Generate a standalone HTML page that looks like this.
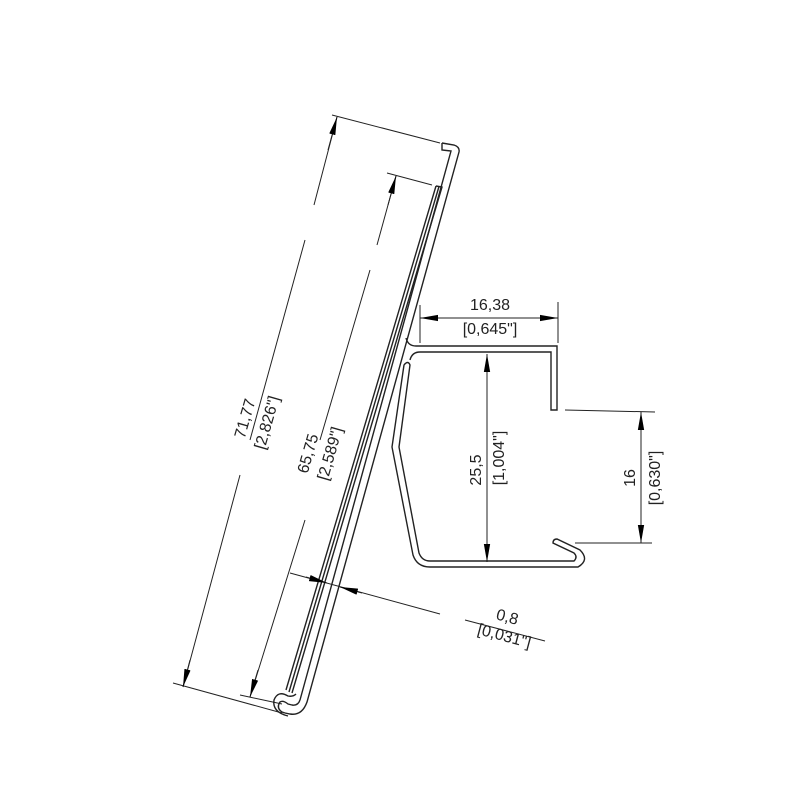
<!DOCTYPE html>
<html><head><style>body{margin:0;background:#fff}svg{display:block}</style></head>
<body>
<svg width="800" height="800" viewBox="0 0 800 800" xmlns="http://www.w3.org/2000/svg" font-family="Liberation Sans, sans-serif">
<defs>
<marker id="ar" viewBox="0 0 10 10" preserveAspectRatio="none" refX="10" refY="5" markerWidth="18" markerHeight="7" markerUnits="userSpaceOnUse" orient="auto-start-reverse"><path d="M0,0.5 L10,5 L0,9.5 z" fill="#000"/></marker>
</defs>
<g fill="none" stroke="#222" stroke-width="1.4">
<path d="M442,143 L442,150 L451,151 L300,700"/>
<path d="M442,143 L454,145 Q460,147 459,152 L307,702 Q302,716 290,714 L285,713"/>
<path d="M300,700 Q298,706 292,705 L288,704 Q283,700 280,702 Q276,708 282,712 L285,713"/>
<path d="M296,694 Q293,697 288,696 Q278,690 274,700 Q272,712 288,716"/>
<path d="M436,186 L442,187 L292,693"/>
<path d="M436,186 L286,690"/>
<path d="M439,186.5 L289,692"/>
<path d="M406,338 Q408,346 416,346 L557,346 L557,410 L551,410 L551,352 L420,352 Q412,352 410,360"/>
<path d="M404,365 L392,447 L413,555 Q417,567 430,567 L578,567 Q590,560 580,550 L557,539 Q553,539 553,543 L574,553 Q578,557 574,561 L430,561 Q422,561 419,553 L399,447 L410,365 Q408,360 404,365 Z"/>
</g>
<g fill="none" stroke="#222" stroke-width="1">
<line x1="332" y1="115" x2="440" y2="143"/>
<line x1="173" y1="683" x2="282" y2="713"/>
<path d="M337,117 L314,205 M305,240 L250,440 M240,475 L183,687" />
<line x1="337" y1="117" x2="328" y2="150" marker-start="url(#ar)"/>
<line x1="190" y1="660" x2="183" y2="687" marker-end="url(#ar)"/>
<line x1="387" y1="173" x2="432" y2="185"/>
<line x1="240" y1="695" x2="282" y2="704"/>
<path d="M396,176 L377,245 M370,270 L320,440 M305,520 L250,697"/>
<line x1="396" y1="176" x2="388" y2="205" marker-start="url(#ar)"/>
<line x1="258" y1="670" x2="250" y2="697" marker-end="url(#ar)"/>
<line x1="420" y1="305" x2="420" y2="343"/>
<line x1="558" y1="302" x2="558" y2="343"/>
<line x1="420" y1="318" x2="558" y2="318" marker-start="url(#ar)" marker-end="url(#ar)"/>
<line x1="487" y1="354" x2="487" y2="562" marker-start="url(#ar)" marker-end="url(#ar)"/>
<line x1="565" y1="410" x2="655" y2="412"/>
<line x1="575" y1="543" x2="652" y2="543"/>
<line x1="641" y1="412" x2="641" y2="543" marker-start="url(#ar)" marker-end="url(#ar)"/>
<line x1="290" y1="573" x2="440" y2="614"/>
<line x1="306" y1="577" x2="327" y2="583" marker-end="url(#ar)"/>
<line x1="362" y1="593" x2="340" y2="587" marker-end="url(#ar)"/>
<line x1="465" y1="620" x2="545" y2="641"/>
</g>
<g fill="#222" font-size="16">
<text x="490" y="310" text-anchor="middle">16,38</text>
<text x="490" y="334" text-anchor="middle">[0,645"]</text>
<text transform="translate(481,470) rotate(-90)" text-anchor="middle">25,5</text>
<text transform="translate(504,458) rotate(-90)" text-anchor="middle">[1,004"]</text>
<text transform="translate(635,478) rotate(-90)" text-anchor="middle">16</text>
<text transform="translate(660,478) rotate(-90)" text-anchor="middle">[0,630"]</text>
<text transform="translate(250,420) rotate(-74)" text-anchor="middle">71,77</text>
<text transform="translate(272,424) rotate(-74)" text-anchor="middle">[2,826"]</text>
<text transform="translate(313,455) rotate(-74)" text-anchor="middle">65,75</text>
<text transform="translate(335,455) rotate(-74)" text-anchor="middle">[2,589"]</text>
<text transform="translate(506,622) rotate(15)" text-anchor="middle">0,8</text>
<text transform="translate(503,641) rotate(15)" text-anchor="middle">[0,031"]</text>
</g>
</svg>
</body></html>
